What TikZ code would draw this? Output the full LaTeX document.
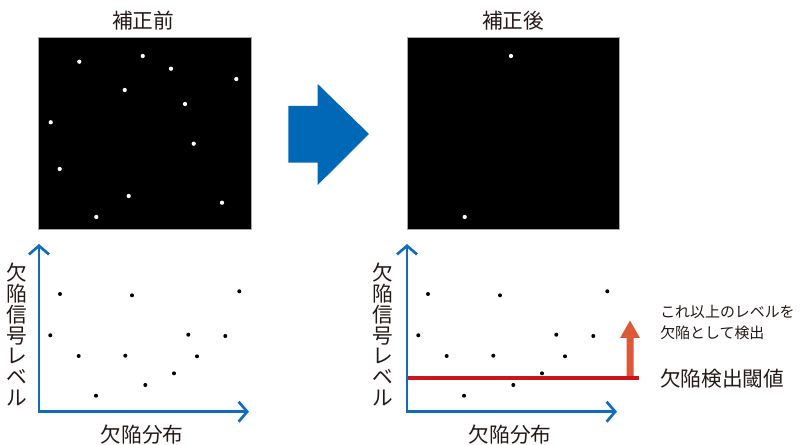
\documentclass[tikz,border=0pt]{standalone}
\usepackage{fontspec}
\setmainfont{Noto Sans CJK JP}
\usetikzlibrary{arrows.meta}
\definecolor{axisblue}{RGB}{16,108,190}
\definecolor{bigblue}{RGB}{0,104,183}
\definecolor{thrred}{RGB}{208,18,27}
\definecolor{uparrowc}{RGB}{222,88,56}
\definecolor{txt}{RGB}{35,24,21}
\begin{document}
\begin{tikzpicture}[x=0.75pt,y=-0.75pt,
  title/.style={font=\fontsize{15.5pt}{15.5pt}\selectfont, text=txt, inner sep=0},
  vlabel/.style={font=\fontsize{15.5pt}{15.6pt}\selectfont, text=txt, align=center, inner sep=0},
  imgbox/.style={fill=black, draw=gray!70, line width=0.75pt},
  axis/.style={draw=axisblue, line width=2.2pt, {Straight Barb[length=6.5pt,width=15pt,line width=2pt]}-{Straight Barb[length=6.5pt,width=15pt,line width=2pt]}},
  wdot/.style={fill=white},
  bdot/.style={fill=black}]
\useasboundingbox (0,0) rectangle (800,445);

% titles
\node[title] (t1) at (143,21) {補正前};
\node[title] (t2) at (513,21) {補正後};

% image boxes
\draw[imgbox] (38,38) rectangle (251,230);
\draw[imgbox] (407,38) rectangle (619,230);
\foreach \p in {(79.3,61.7),(142.7,56),(171,68.7),(236.3,79),(124.7,90),(185,104),(50.7,122.3),(193.7,143.7),(59.7,169),(128.7,196),(222,202.7),(96.3,217)}
  \fill[wdot] \p circle[radius=1.6pt];
\fill[wdot] (511,56) circle[radius=1.6pt];
\fill[wdot] (464.7,217) circle[radius=1.6pt];

% big arrow
\fill[bigblue] (288.3,106) -- (317.7,106) -- (317.7,84) -- (369,134) -- (317.7,185) -- (317.7,162.7) -- (288.3,162.7) -- cycle;

% left chart
\coordinate (ly) at (39,244);
\coordinate (lo) at (39,411.7);
\coordinate (lx) at (249,411.7);
\draw[axis] (ly) -- (lo) -- (lx);
\node[vlabel] (lyl) at (17,334.5) {欠\\陥\\信\\号\\レ\\ベ\\ル};
\node[title] (lxl) at (142,435) {欠陥分布};
\foreach \p in {(60,294),(132,295.3),(239.3,291.3),(50.3,335.3),(188.3,334.7),(225.3,336),(78.7,356),(125.3,355.7),(197,356.3),(174,373.3),(145.3,385),(96,395.7)}
  \fill[bdot] \p circle[radius=1.5pt];

% right chart
\coordinate (ry) at (407,244);
\coordinate (ro) at (407,411.7);
\coordinate (rx) at (617,411.7);
\draw[axis] (ry) -- (ro) -- (rx);
\node[vlabel] (ryl) at (383,334.5) {欠\\陥\\信\\号\\レ\\ベ\\ル};
\node[title] (rxl) at (510,435) {欠陥分布};
\begin{scope}[xshift=368*0.75pt]
\foreach \p in {(60,294),(132,295.3),(239.3,291.3),(50.3,335.3),(188.3,334.7),(225.3,336),(78.7,356),(125.3,355.7),(197,356.3),(174,373.3),(145.3,385),(96,395.7)}
  \fill[bdot] \p circle[radius=1.5pt];
\end{scope}

% up arrow and threshold
\fill[uparrowc] (626.5,377) -- (626.5,338) -- (620,338) -- (630,320.5) -- (640,338) -- (633.5,338) -- (633.5,377) -- cycle;
\coordinate (th1) at (407.7,377.7);
\coordinate (th2) at (639,377.7);
\draw[thrred, line width=3pt] (th1) -- (th2);

% right labels
\node[anchor=west, inner sep=0, text=txt, align=left, font=\fontsize{11.2pt}{16.2pt}\selectfont] (note) at (660,322.5) {これ以上のレベルを\\欠陥として検出};
\node[anchor=west, title] (thl) at (660,378.3) {欠陥検出閾値};
\end{tikzpicture}
\end{document}
